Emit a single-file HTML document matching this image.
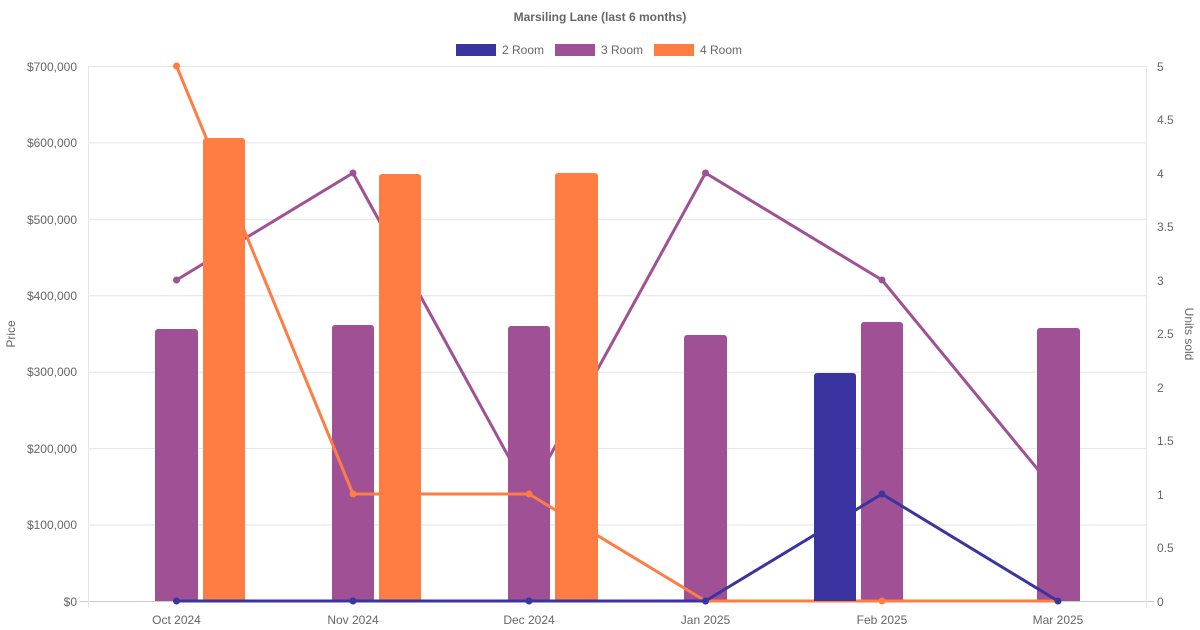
<!DOCTYPE html>
<html><head><meta charset="utf-8"><style>
body{margin:0;background:#fff}
svg{display:block;font-family:"Liberation Sans",Arial,sans-serif}
</style></head><body>
<svg width="1200" height="630" viewBox="0 0 1200 630">
<rect width="1200" height="630" fill="#fff"/>
<text x="600" y="21" text-anchor="middle" font-size="12" font-weight="bold" fill="#666">Marsiling Lane (last 6 months)</text>
<rect x="456" y="44" width="40" height="12" fill="#3a34a0"/><text x="502" y="54" font-size="12" fill="#666">2 Room</text>
<rect x="555" y="44" width="40" height="12" fill="#a05195"/><text x="601" y="54" font-size="12" fill="#666">3 Room</text>
<rect x="654" y="44" width="40" height="12" fill="#ff7c43"/><text x="700" y="54" font-size="12" fill="#666">4 Room</text>
<g stroke="#e5e5e5" stroke-width="1">
<line x1="88" y1="66.5" x2="1146" y2="66.5"/>
<line x1="88" y1="142.9" x2="1146" y2="142.9"/>
<line x1="88" y1="219.4" x2="1146" y2="219.4"/>
<line x1="88" y1="295.8" x2="1146" y2="295.8"/>
<line x1="88" y1="372.2" x2="1146" y2="372.2"/>
<line x1="88" y1="448.6" x2="1146" y2="448.6"/>
<line x1="88" y1="525" x2="1146" y2="525"/>
<line x1="80" y1="601.5" x2="1154" y2="601.5" stroke="#ccc"/>
<line x1="88.5" y1="66" x2="88.5" y2="608"/>
<line x1="1146.5" y1="66" x2="1146.5" y2="608"/>
</g>
<g font-size="12" fill="#666" text-anchor="end">
<text x="77" y="71">$700,000</text><text x="77" y="147">$600,000</text><text x="77" y="224">$500,000</text><text x="77" y="300">$400,000</text><text x="77" y="376">$300,000</text><text x="77" y="453">$200,000</text><text x="77" y="529">$100,000</text><text x="77" y="606">$0</text>
</g>
<g font-size="12" fill="#666">
<text x="1157" y="71">5</text><text x="1157" y="124">4.5</text><text x="1157" y="178">4</text><text x="1157" y="231">3.5</text><text x="1157" y="285">3</text><text x="1157" y="338">2.5</text><text x="1157" y="392">2</text><text x="1157" y="445">1.5</text><text x="1157" y="499">1</text><text x="1157" y="552">0.5</text><text x="1157" y="606">0</text>
</g>
<g font-size="12" fill="#666" text-anchor="middle">
<text x="176.5" y="624">Oct 2024</text><text x="353" y="624">Nov 2024</text><text x="529" y="624">Dec 2024</text><text x="705.5" y="624">Jan 2025</text><text x="882" y="624">Feb 2025</text><text x="1058" y="624">Mar 2025</text>
</g>
<text transform="translate(15,334) rotate(-90)" text-anchor="middle" font-size="12" fill="#666">Price</text>
<text transform="translate(1185,334) rotate(90)" text-anchor="middle" font-size="12" fill="#666">Units sold</text>
<!-- 3 room line -->
<polyline fill="none" stroke-width="3" stroke-linejoin="round" stroke="#a05195" points="176.5,280 353,173 529,494 705.5,173 882,280 1058,494"/>
<g fill="#a05195"><circle cx="176.5" cy="280" r="3.5"/><circle cx="353" cy="173" r="3.5"/><circle cx="529" cy="494" r="3.5"/><circle cx="705.5" cy="173" r="3.5"/><circle cx="882" cy="280" r="3.5"/><circle cx="1058" cy="494" r="3.5"/></g>
<!-- 3 room bars -->
<g fill="#a05195">
<path d="M155,601V332a3,3 0 0 1 3,-3H195a3,3 0 0 1 3,3V601Z"/>
<path d="M332,601V328a3,3 0 0 1 3,-3H371a3,3 0 0 1 3,3V601Z"/>
<path d="M508,601V329a3,3 0 0 1 3,-3H547a3,3 0 0 1 3,3V601Z"/>
<path d="M684,601V338a3,3 0 0 1 3,-3H724a3,3 0 0 1 3,3V601Z"/>
<path d="M861,601V325a3,3 0 0 1 3,-3H900a3,3 0 0 1 3,3V601Z"/>
<path d="M1037,601V331a3,3 0 0 1 3,-3H1077a3,3 0 0 1 3,3V601Z"/>
</g>
<!-- 4 room line -->
<polyline fill="none" stroke-width="3" stroke-linejoin="round" stroke="#ff7c43" points="176.5,66 353,494 529,494 705.5,601 882,601 1058,601"/>
<g fill="#ff7c43"><circle cx="176.5" cy="66" r="3.5"/><circle cx="353" cy="494" r="3.5"/><circle cx="529" cy="494" r="3.5"/><circle cx="705.5" cy="601" r="3.5"/><circle cx="882" cy="601" r="3.5"/><circle cx="1058" cy="601" r="3.5"/></g>
<!-- 4 room bars -->
<g fill="#ff7c43">
<path d="M203,601V141a3,3 0 0 1 3,-3H242a3,3 0 0 1 3,3V601Z"/>
<path d="M379,601V177a3,3 0 0 1 3,-3H418a3,3 0 0 1 3,3V601Z"/>
<path d="M555,601V176a3,3 0 0 1 3,-3H595a3,3 0 0 1 3,3V601Z"/>
</g>
<!-- 2 room line -->
<polyline fill="none" stroke-width="3" stroke-linejoin="round" stroke="#3a34a0" points="176.5,601 353,601 529,601 705.5,601 882,494 1058,601"/>
<g fill="#3a34a0"><circle cx="176.5" cy="601" r="3.5"/><circle cx="353" cy="601" r="3.5"/><circle cx="529" cy="601" r="3.5"/><circle cx="705.5" cy="601" r="3.5"/><circle cx="882" cy="494" r="3.5"/><circle cx="1058" cy="601" r="3.5"/></g>
<!-- 2 room bar -->
<path fill="#3a34a0" d="M814,601V376a3,3 0 0 1 3,-3H853a3,3 0 0 1 3,3V601Z"/>
</svg>
</body></html>
